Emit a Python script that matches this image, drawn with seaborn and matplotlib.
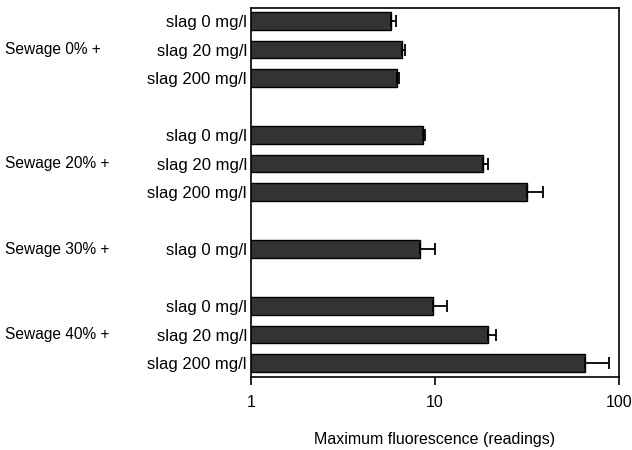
import matplotlib
matplotlib.use("Agg")
import matplotlib.pyplot as plt
import matplotlib.transforms as mtransforms
import seaborn as sns
import pandas as pd
import numpy as np

sns.set_style("white")
plt.rcParams['font.family'] = ['Liberation Sans', 'DejaVu Sans']
plt.rcParams['text.color'] = 'black'
plt.rcParams['axes.labelcolor'] = 'black'
plt.rcParams['xtick.color'] = 'black'
plt.rcParams['ytick.color'] = 'black'

# Data
bar_labels = ["slag 0 mg/l", "slag 20 mg/l", "slag 200 mg/l",
              "slag 0 mg/l", "slag 20 mg/l", "slag 200 mg/l",
              "slag 0 mg/l",
              "slag 0 mg/l", "slag 20 mg/l", "slag 200 mg/l"]
row_pos = [0, 1, 2, 4, 5, 6, 8, 10, 11, 12]
values = [5.8, 6.6, 6.2, 8.6, 18.2, 31.6, 8.3, 9.8, 19.5, 65.0]
err_upper = [0.3, 0.3, 0.2, 0.2, 1.2, 7.0, 1.7, 1.8, 2.0, 23.0]
group_labels = ["Sewage 0% +", "Sewage 20% +", "Sewage 30% +", "Sewage 40% +"]
group_rows = [1, 5, 8, 11]
xticks = [1, 10, 100]
xtick_labels = ["1", "10", "100"]
xlabel = "Maximum fluorescence (readings)"

df = pd.DataFrame({"value": values, "pos": row_pos})

fig = plt.figure(figsize=(6.32, 4.5), dpi=100)
ax = fig.add_axes([251/632, 1-377/450, (619-251)/632, (377-8)/450])
ax.set_xscale("log")

sns.barplot(data=df, x="value", y="pos", orient="h", native_scale=True,
            color="#333333", edgecolor="black", linewidth=1.0,
            width=0.62, saturation=1, errorbar=None, ax=ax)

ax.errorbar(values, row_pos, xerr=[np.zeros(len(values)), err_upper],
            fmt="none", ecolor="black", elinewidth=1.3, capsize=4, capthick=1.3)

ax.set_xlim(1, 100)
ax.set_ylim(12.49, -0.46)
ax.set_xticks(xticks)
ax.set_xticklabels(xtick_labels, fontsize=11.5)
ax.xaxis.set_minor_locator(matplotlib.ticker.NullLocator())
ax.tick_params(axis="x", which="major", direction="out", length=6, width=1.2,
               bottom=True, pad=7, colors="black")
ax.set_yticks(row_pos)
ax.set_yticklabels(bar_labels, fontsize=12)
ax.tick_params(axis="y", length=0, pad=3, colors="black")
ax.set_ylabel("")
ax.set_xlabel(xlabel, fontsize=11.5, labelpad=16, color="black")

for s in ax.spines.values():
    s.set_visible(True)
    s.set_color("black")
    s.set_linewidth(1.2)

trans = mtransforms.blended_transform_factory(fig.transFigure, ax.transData)
for lab, r in zip(group_labels, group_rows):
    ax.text(5/632, r, lab, transform=trans, ha="left", va="center",
            fontsize=11.2, color="black")

fig.savefig("out.png", dpi=100)
